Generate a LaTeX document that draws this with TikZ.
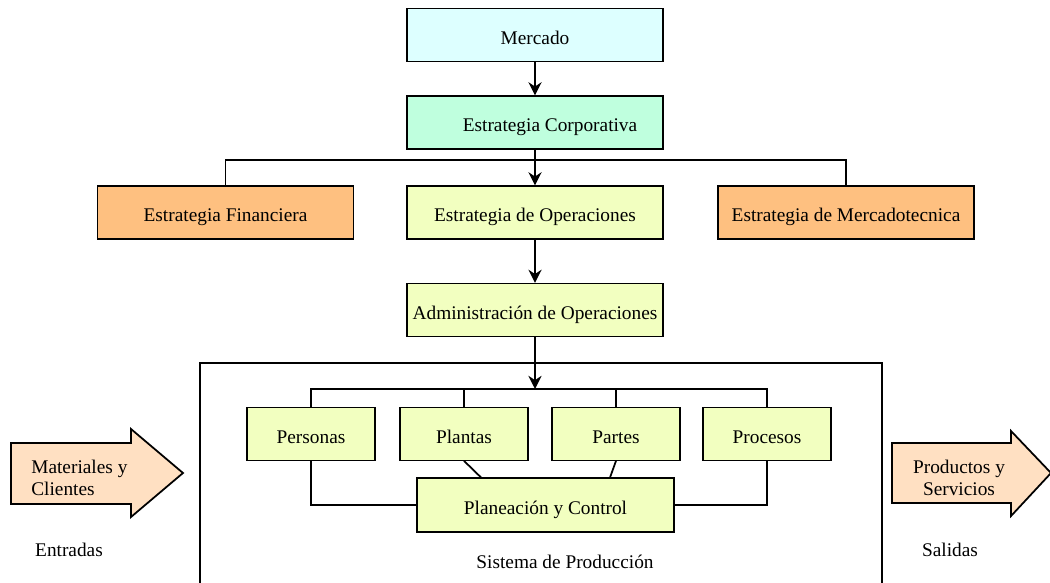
\documentclass[tikz,border=0pt]{standalone}
\usepackage{fontspec}
\setmainfont{Liberation Serif}
\usepackage{tikz}
\usetikzlibrary{arrows.meta,calc}

\definecolor{cielo}{RGB}{221,255,255}
\definecolor{menta}{RGB}{191,255,222}
\definecolor{naranja}{RGB}{254,192,128}
\definecolor{limon}{RGB}{242,255,192}
\definecolor{durazno}{RGB}{255,224,194}

\begin{document}
\begin{tikzpicture}[x=0.02cm,y=-0.02cm,
  font=\fontsize{11}{12.5}\selectfont,
  caja/.style={draw, line width=0.7pt, inner sep=0pt, text height=10.4pt, text depth=0pt, minimum width=5.12cm, minimum height=1.06cm},
  cajita/.style={draw, line width=0.7pt, inner sep=0pt, text height=10.4pt, text depth=0pt, minimum width=2.56cm, minimum height=1.05cm, fill=limon},
  linea/.style={line width=1pt},
  flecha/.style={line width=1pt, -{Stealth[length=7.5pt,width=7.5pt]}}]

\useasboundingbox (0,0) rectangle (1050,582);

\node[caja, fill=cielo] (merc) at (535,35) {Mercado};
\node[caja, fill=menta] (corp) at (535,122.5) {\hspace*{0.6cm}Estrategia Corporativa};
\node[caja, fill=naranja] (fin) at (225.5,212.5) {Estrategia Financiera};
\node[caja, fill=limon] (oper) at (535,212.5) {Estrategia de Operaciones};
\node[caja, fill=naranja] (mkt) at (846,212.5) {Estrategia de Mercadotecnica};
\node[caja, fill=limon] (adm) at (535,310) {Administración de Operaciones};

\draw[flecha] (merc) -- (corp);
\coordinate (ramaA) at (535,160);
\draw[linea] (fin.north) |- (ramaA) -| (mkt.north);
\draw[flecha] (corp) -- (oper);
\draw[flecha] (oper) -- (adm);

% sistema de produccion
\draw[line width=1pt] (200,590) -- (200,363) -- (882,363) -- (882,590);
\node (sist) at (565,562) {Sistema de Producción};

\node[cajita] (pers) at (311,434) {Personas};
\node[cajita] (plan) at (464,434) {Plantas};
\node[cajita] (part) at (616,434) {Partes};
\node[cajita] (proc) at (767,434) {Procesos};
\node[cajita, minimum width=5.14cm, minimum height=1.08cm] (pyc) at (545.5,505) {Planeación y Control};

\coordinate (ramaB) at (535,389);
\draw[flecha] (adm) -- (ramaB);
\draw[linea] (pers.north) |- (ramaB) -| (proc.north);
\draw[linea] (plan.north) -- (plan.north |- ramaB);
\draw[linea] (part.north) -- (part.north |- ramaB);
\draw[linea] (pers.south) |- (pyc.west);
\draw[linea] (proc.south) |- (pyc.east);
\draw[linea] (plan.south) -- ($(pyc.north west)!0.25!(pyc.north east)$);
\draw[linea] (part.south) -- ($(pyc.north west)!0.75!(pyc.north east)$);

% entradas y salidas
\draw[line width=1pt, fill=durazno] (11,443) -- (131,443) -- (131,429) -- (183,473) -- (131,517) -- (131,504) -- (11,504) -- cycle;
\node[align=left, anchor=west, inner sep=0pt] (mat) at (31,478) {Materiales y\\ Clientes};
\node (entr) at (69,550) {Entradas};

\draw[line width=1pt, fill=durazno] (892,443) -- (1011,443) -- (1011,431) -- (1051,473) -- (1011,516) -- (1011,503) -- (892,503) -- cycle;
\node[align=center, inner sep=0pt] (prod) at (959,478) {Productos y\\ Servicios};
\node (sal) at (950,550) {Salidas};

\end{tikzpicture}
\end{document}
